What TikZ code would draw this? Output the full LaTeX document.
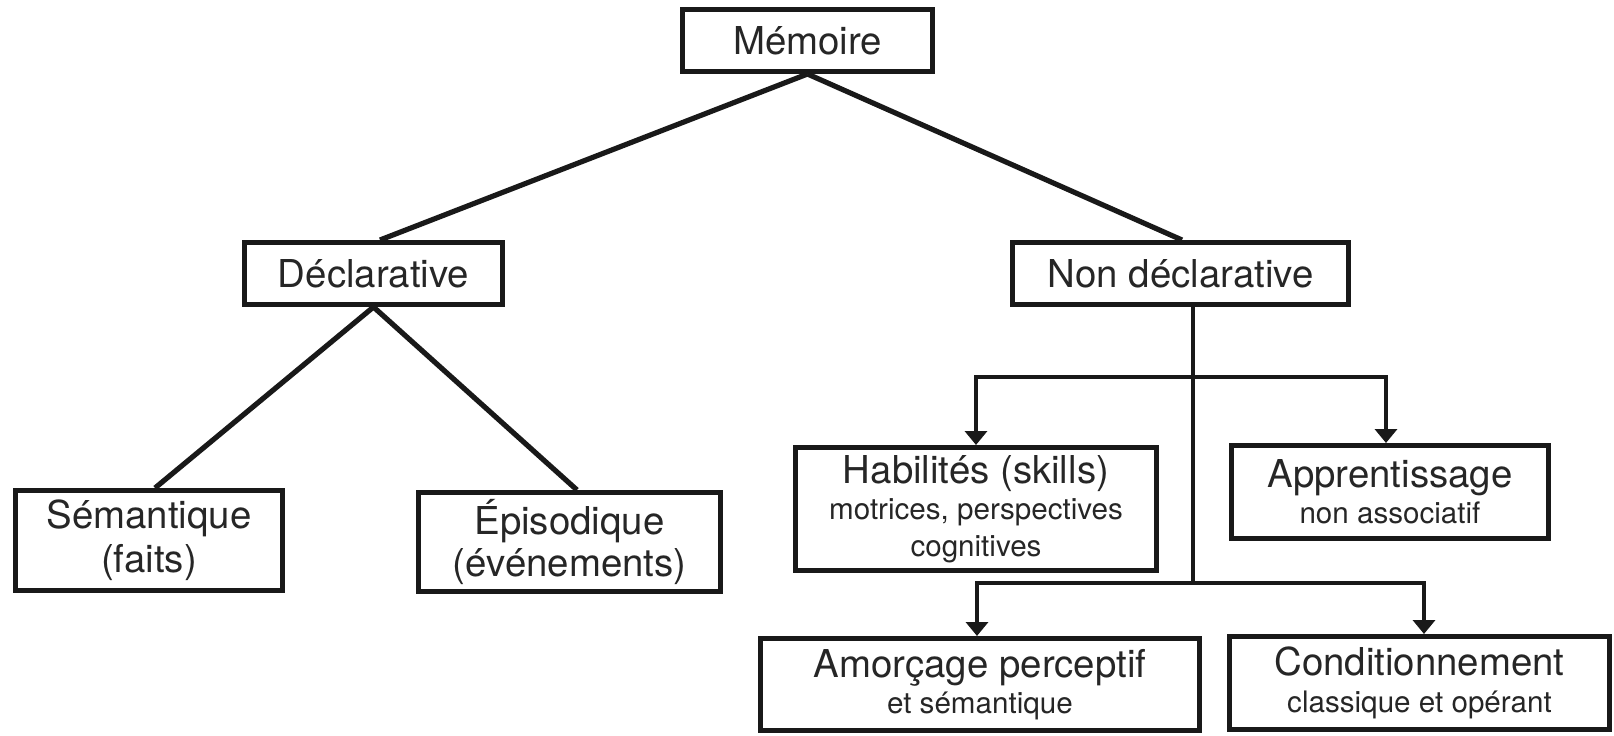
\documentclass[tikz,border=0pt]{standalone}
\usepackage{fontspec}
\setmainfont{TeX Gyre Heros}
\usetikzlibrary{arrows.meta}
\newcommand\bigtxt{\fontsize{19.2}{18.2}\selectfont}
\newcommand\smalltxt{\fontsize{14.8}{18}\selectfont}
\begin{document}
\begin{tikzpicture}[x=0.5pt,y=-0.5pt,
  box/.style={draw=black!90, line width=2.5pt, inner sep=0pt, align=center,
              font=\bigtxt, text=black!85},
  link/.style={draw=black!90, line width=2.6pt},
  arr/.style={draw=black!90, line width=2.4pt, -{Triangle[width=11pt,length=7pt]}},
]
\useasboundingbox (0,0) rectangle (1614,735);

% Top level
\node[box, minimum width=125pt, minimum height=31pt] (mem) at (807.5,40.5) {Mémoire};

% Second level
\node[box, minimum width=129pt, minimum height=31pt] (decl) at (373.5,273.5) {Déclarative};
\node[box, minimum width=168pt, minimum height=31pt] (nondecl) at (1180.5,273.5) {Non déclarative};

% Declarative branch
\node[box, minimum width=133.5pt, minimum height=50pt] (sem) at (149,540.5)
  {Sémantique\\[2.8pt](faits)};
\node[box, minimum width=151pt, minimum height=49.5pt] (epi) at (569.5,542)
  {Épisodique\\[2.8pt](événements)};

% Non-declarative branch
\node[box, minimum width=180.5pt, minimum height=61.5pt] (hab) at (976,509)
  {Habilités (skills)\\{\smalltxt motrices, perspectives}\\{\smalltxt cognitives}};
\node[box, minimum width=158.5pt, minimum height=46.5pt] (app) at (1390,492)
  {Apprentissage\\{\smalltxt non associatif}};
\node[box, minimum width=219.5pt, minimum height=46pt] (amo) at (980,684.5)
  {Amorçage perceptif\\{\smalltxt et sémantique}};
\node[box, minimum width=190pt, minimum height=46.5pt] (cond) at (1419.5,683)
  {Conditionnement\\{\smalltxt classique et opérant}};

% Tree links
\draw[link] (mem.south) -- ([xshift=3.25pt]decl.north);
\draw[link] (mem.south) -- ([xshift=0.75pt]nondecl.north);
\draw[link] (decl.south) -- ([xshift=3pt]sem.north);
\draw[link] (decl.south) -- ([xshift=3.75pt]epi.north);

% Trunk and branching arrows
\coordinate (j1) at (1193,377);
\coordinate (j2) at (1193,583);
\draw[link, line width=2.4pt] (nondecl.south -| j1) -- (j2);
\draw[arr] (j1) -| (hab.north);
\draw[arr] (j1) -| ([xshift=-2pt]app.north);
\draw[arr] (j2) -| ([xshift=-1.5pt]amo.north);
\draw[arr] (j2) -| ([xshift=2.25pt]cond.north);
\end{tikzpicture}
\end{document}
